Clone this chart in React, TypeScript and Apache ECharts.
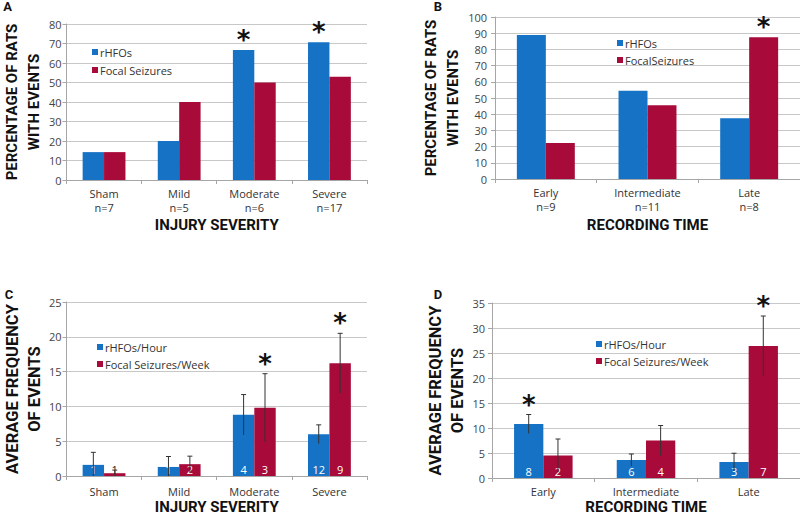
import React, { useEffect, useRef } from "react";
import * as echarts from "echarts";

// ---------- data ----------
const severityNames = ["Sham", "Mild", "Moderate", "Severe"];
const severityN = [7, 5, 6, 17];
const timeNames = ["Early", "Intermediate", "Late"];
const timeN = [9, 11, 8];

// Panel A: percentage of rats with events by injury severity
const pctSevHfo = [14.3, 20, 66.7, 70.6];
const pctSevSz = [14.3, 40, 50, 52.9];
const sigSevHfoA = [false, false, true, true];
const sigSevSzA = [false, false, false, false];

// Panel B: percentage of rats with events by recording time
const pctTimeHfo = [88.9, 54.5, 37.5];
const pctTimeSz = [22.2, 45.5, 87.5];
const sigTimeHfoB = [false, false, false];
const sigTimeSzB = [false, false, true];

// Panel C: average frequency by injury severity (mean, +/- error, counts)
const freqSevHfo = [1.6, 1.3, 8.8, 6.0];
const errSevHfo = [1.8, 1.5, 2.9, 1.35];
const cntSevHfo = [1, 1, 4, 12];
const freqSevSz = [0.4, 1.7, 9.8, 16.2];
const errSevSz = [0.45, 1.15, 4.9, 4.3];
const cntSevSz = [1, 2, 3, 9];
const sigSevHfoC = [false, false, false, false];
const sigSevSzC = [false, false, true, true];

// Panel D: average frequency by recording time
const freqTimeHfo = [10.8, 3.6, 3.2];
const errTimeHfo = [1.9, 1.2, 1.75];
const cntTimeHfo = [8, 6, 3];
const freqTimeSz = [4.5, 7.5, 26.4];
const errTimeSz = [3.3, 3.0, 6.0];
const cntTimeSz = [2, 4, 7];
const sigTimeHfoD = [true, false, false];
const sigTimeSzD = [false, false, true];

// ---------- styles ----------
const BLUE = "#1672c4";
const RED = "#a80a3a";
const GAP = 0.43;
const LABEL_FONT = "'Open Sans', sans-serif";
const TITLE_FONT = "Roboto, sans-serif";
const TEXT = "#333";

function xAxis(grid: number, names: string[], ns: number[] | null, nameText: string, nameGap: number, labelMargin: number) {
  return {
    type: "category",
    gridIndex: grid,
    data: names,
    name: nameText,
    nameLocation: "middle",
    nameGap,
    nameTextStyle: { fontFamily: TITLE_FONT, fontWeight: "bold", fontSize: 15, color: "#111", lineHeight: 15 },
    axisLine: { show: true, lineStyle: { color: "#a6a6a6", width: 1 } },
    axisTick: { show: true, length: 4, lineStyle: { color: "#a6a6a6" } },
    axisLabel: {
      margin: labelMargin,
      fontFamily: LABEL_FONT,
      fontSize: 11,
      lineHeight: 14,
      color: TEXT,
      formatter: (v: string, i: number) => (ns ? v + "\nn=" + ns[i] : v),
    },
    splitLine: { show: false },
  };
}

function yAxis(grid: number, max: number, interval: number, nameText: string, nameGap: number, labelMargin: number, nameSize: number) {
  return {
    type: "value",
    gridIndex: grid,
    min: 0,
    max,
    interval,
    name: nameText,
    nameLocation: "middle",
    nameGap,
    nameTextStyle: { fontFamily: TITLE_FONT, fontWeight: "bold", fontSize: nameSize, color: "#111", lineHeight: 22 },
    axisLine: { show: true, lineStyle: { color: "#a6a6a6", width: 1 } },
    axisTick: { show: true, length: 4, lineStyle: { color: "#a6a6a6" } },
    axisLabel: { margin: labelMargin, fontFamily: LABEL_FONT, fontSize: 11, color: "#444" },
    splitLine: { show: true, lineStyle: { color: "#c8c8c8", width: 1 } },
  };
}

function barSeries(grid: number, name: string, color: string, values: number[], counts: number[] | null) {
  return {
    type: "bar",
    name,
    xAxisIndex: grid,
    yAxisIndex: grid,
    barGap: "0%",
    barCategoryGap: GAP * 100 + "%",
    itemStyle: { color },
    data: values.map((v, i) => ({
      value: v,
      label: counts
        ? {
            show: true,
            position: "insideBottom",
            distance: 1,
            formatter: String(counts[i]),
            color: v < 1 ? "#222" : "#fff",
            fontFamily: LABEL_FONT,
            fontSize: 11,
          }
        : { show: false },
    })),
  };
}

function markSeries(grid: number, side: number, values: number[], errs: number[] | null, sigs: boolean[]) {
  return {
    type: "custom",
    xAxisIndex: grid,
    yAxisIndex: grid,
    silent: true,
    z: 5,
    data: values.map((v, i) => [i, v, errs ? errs[i] : 0, sigs[i] ? 1 : 0]),
    encode: { x: 0, y: 1 },
    renderItem: (_params: any, api: any) => {
      const i = api.value(0);
      const v = api.value(1);
      const e = api.value(2);
      const s = api.value(3);
      const band = api.size([1, 0])[0];
      const bw = (band * (1 - GAP)) / 2;
      const cx = api.coord([i, 0])[0] + (side * bw) / 2;
      const children: any[] = [];
      let topY = api.coord([i, v])[1];
      if (e > 0) {
        const yHi = api.coord([i, v + e])[1];
        const yLo = api.coord([i, Math.max(0, v - e)])[1];
        const st = { stroke: "#333", lineWidth: 1 };
        children.push({ type: "line", shape: { x1: cx, y1: yHi, x2: cx, y2: yLo }, style: st });
        children.push({ type: "line", shape: { x1: cx - 2.5, y1: yHi, x2: cx + 2.5, y2: yHi }, style: st });
        topY = yHi;
      }
      if (s) {
        children.push({
          type: "text",
          x: cx,
          y: topY - 10,
          style: {
            text: "*",
            fontFamily: "'DejaVu Sans', sans-serif",
            fontWeight: "bold",
            fontSize: 26,
            fill: "#111",
            align: "center",
            verticalAlign: "middle",
          },
        });
      }
      return { type: "group", children };
    },
  };
}

function legend(left: number, top: number, names: string[], gap: number) {
  return {
    orient: "vertical",
    left,
    top,
    data: names,
    icon: "rect",
    itemWidth: 6,
    itemHeight: 6,
    itemGap: gap,
    selectedMode: false,
    textStyle: { fontFamily: LABEL_FONT, fontSize: 11, color: TEXT, lineHeight: 14, padding: [0, 0, 0, -3] },
  };
}

function panelLetter(text: string, x: number, y: number) {
  return {
    type: "text",
    x,
    y,
    style: { text, fontFamily: TITLE_FONT, fontWeight: "bold", fontSize: 13, fill: "#111", align: "center", verticalAlign: "middle" },
  };
}

export default function App() {
  const ref = useRef<HTMLDivElement>(null);
  useEffect(() => {
    if (!ref.current) return;
    const chart = echarts.init(ref.current, undefined, { renderer: "svg" });
    const option: any = {
      animation: false,
      backgroundColor: "#fff",
      grid: [
        { left: 58, top: 24, width: 309, height: 156 },
        { left: 495, top: 17, width: 305, height: 162 },
        { left: 58, top: 302, width: 309, height: 177 },
        { left: 492, top: 303, width: 308, height: 178 },
      ],
      xAxis: [
        xAxis(0, severityNames, severityN, "INJURY SEVERITY", 37, 6),
        xAxis(1, timeNames, timeN, "RECORDING TIME", 38, 6),
        xAxis(2, severityNames, null, "INJURY SEVERITY", 23, 8),
        xAxis(3, timeNames, null, "RECORDING TIME", 21, 6),
      ],
      yAxis: [
        yAxis(0, 80, 10, "PERCENTAGE OF RATS\nWITH EVENTS", 20, 5, 15),
        yAxis(1, 100, 10, "PERCENTAGE OF RATS\nWITH EVENTS", 23, 8, 15),
        yAxis(2, 25, 5, "AVERAGE FREQUENCY\nOF EVENTS", 20, 5, 16.5),
        yAxis(3, 35, 5, "AVERAGE FREQUENCY\nOF EVENTS", 20, 7, 16.5),
      ],
      legend: [
        legend(87, 40, ["rHFOs", "Focal Seizures"], 4),
        legend(612, 31, ["rHFOs", "FocalSeizures"], 3),
        legend(92, 335, ["rHFOs/Hour", "Focal Seizures/Week"], 3),
        legend(591, 332, ["rHFOs/Hour", "Focal Seizures/Week"], 3),
      ],
      series: [
        barSeries(0, "rHFOs", BLUE, pctSevHfo, null),
        barSeries(0, "Focal Seizures", RED, pctSevSz, null),
        markSeries(0, -1, pctSevHfo, null, sigSevHfoA),
        markSeries(0, 1, pctSevSz, null, sigSevSzA),
        barSeries(1, "rHFOs", BLUE, pctTimeHfo, null),
        barSeries(1, "FocalSeizures", RED, pctTimeSz, null),
        markSeries(1, -1, pctTimeHfo, null, sigTimeHfoB),
        markSeries(1, 1, pctTimeSz, null, sigTimeSzB),
        barSeries(2, "rHFOs/Hour", BLUE, freqSevHfo, cntSevHfo),
        barSeries(2, "Focal Seizures/Week", RED, freqSevSz, cntSevSz),
        markSeries(2, -1, freqSevHfo, errSevHfo, sigSevHfoC),
        markSeries(2, 1, freqSevSz, errSevSz, sigSevSzC),
        barSeries(3, "rHFOs/Hour", BLUE, freqTimeHfo, cntTimeHfo),
        barSeries(3, "Focal Seizures/Week", RED, freqTimeSz, cntTimeSz),
        markSeries(3, -1, freqTimeHfo, errTimeHfo, sigTimeHfoD),
        markSeries(3, 1, freqTimeSz, errTimeSz, sigTimeSzD),
      ],
      graphic: [
        panelLetter("A", 7.5, 6.5),
        panelLetter("B", 438, 6.5),
        panelLetter("C", 9, 294),
        panelLetter("D", 438, 294.5),
      ],
    };
    chart.setOption(option);
    return () => chart.dispose();
  }, []);
  return (
    <div
      ref={ref}
      style={{ position: "absolute", left: 0, top: 0, width: 800, height: 515, background: "#fff" }}
    />
  );
}
